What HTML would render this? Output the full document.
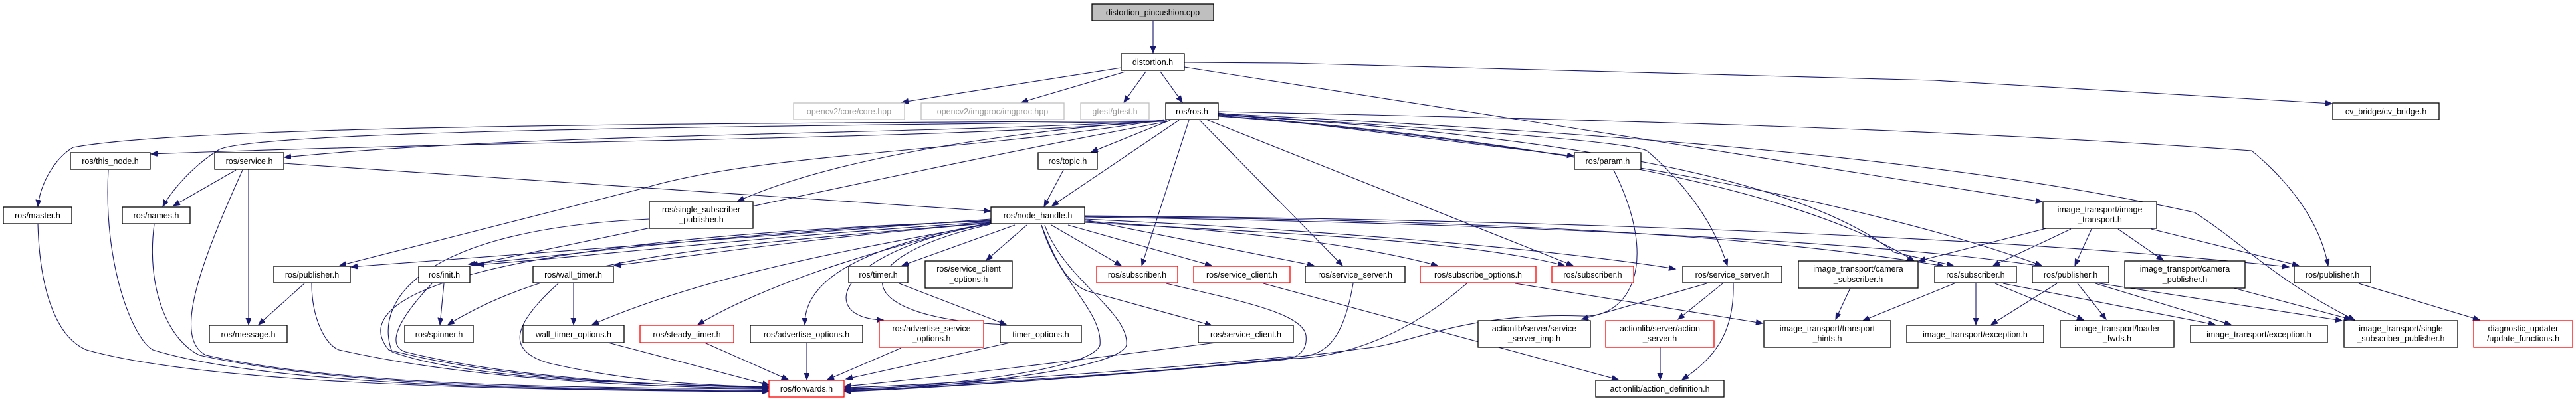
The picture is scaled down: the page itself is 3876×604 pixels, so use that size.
<!DOCTYPE html>
<html><head><meta charset="utf-8"><style>
html,body{margin:0;padding:0;background:#fff;}
svg{display:block;}
text{font-family:"Liberation Sans",sans-serif;font-size:12.5px;text-anchor:middle;fill:#000;}
.n{fill:#fff;stroke:#000;stroke-width:1.3;}
.r{fill:#fff;stroke:#ff0000;stroke-width:1.3;}
.g{fill:#fff;stroke:#bfbfbf;stroke-width:1.3;}
.gt{fill:#999;}
path{fill:none;stroke:#191970;stroke-width:1.1;}
</style></head><body>
<svg width="3876" height="604" viewBox="0 0 3876 604" xmlns="http://www.w3.org/2000/svg">
<defs><marker id="a" markerUnits="userSpaceOnUse" markerWidth="12" markerHeight="10" refX="10" refY="4" orient="auto"><polygon points="0,0 10,4 0,8" fill="#191970" stroke="#191970"/></marker></defs>
<g marker-end="url(#a)">
<path d="M1735,31 L1735,80"/>
<path d="M1687,102 L1357,154"/>
<path d="M1693,108 L1537,154"/>
<path d="M1724,108 L1691,154"/>
<path d="M1746,108 L1779,154"/>
<path d="M1782,94 L1940,95 L2910,121 L3509,156"/>
<path d="M1782,101 L3073,304"/>
<!-- ros.h -->
<path d="M1754,182 C1200,186 300,186 110,222 C80,240 60,280 57,311"/>
<path d="M1754,183 C1200,190 400,195 330,225 C290,250 260,285 245,311"/>
<path d="M1756,182 C1400,212 800,210 227,232"/>
<path d="M1756,182 C1300,205 800,200 428,237"/>
<path d="M1752,180 C1450,230 1150,230 970,283 L511,400"/>
<path d="M1752,181 C1500,200 1250,240 1110,303"/>
<path d="M1757,183 C1400,250 1100,320 709,399"/>
<path d="M1761,181 L1642,229"/>
<path d="M1774,181 L1583,310"/>
<path d="M1789,181 L1718,400"/>
<path d="M1805,181 L2020,400"/>
<path d="M1815,180 L2367,400"/>
<path d="M1833,170 L2368,235"/>
<path d="M1833,172 C2100,190 2440,210 2478,227 C2540,280 2580,340 2599,400"/>
<path d="M1833,168 C2400,180 2906,193 3388,227 C3440,270 3490,330 3503,400"/>
<path d="M1833,171 C2400,200 2906,233 3302,320 C3380,370 3420,420 3543,482"/>
<path d="M1833,173 C2300,200 2700,260 2850,380 L2939,400"/>
<path d="M1833,175 C2300,210 2800,300 3072,400"/>
<path d="M1833,174 C2300,210 2700,280 2880,393"/>
<!-- node_handle -->
<path d="M1491,330 C1100,360 800,380 528,402"/>
<path d="M1491,332 C1100,350 900,380 705,398"/>
<path d="M1491,334 C1100,360 900,385 718,399"/>
<path d="M1491,335 C1100,370 850,380 674,489"/>
<path d="M1491,336 C1200,360 1050,385 924,400"/>
<path d="M1491,337 C1250,380 1050,420 891,489"/>
<path d="M1527,339 L1357,400"/>
<path d="M1545,339 L1484,392"/>
<path d="M1490,335 C1300,380 1150,430 1050,489"/>
<path d="M1490,336 C1300,370 1210,420 1211,489"/>
<path d="M1490,337 C1250,380 1230,480 1329,482"/>
<path d="M1490,338 C1260,390 1280,480 1514,489"/>
<path d="M1582,339 L1687,400"/>
<path d="M1607,339 L1823,400"/>
<path d="M1567,339 C1590,400 1610,430 1638,439 L1823,490"/>
<path d="M1632,331 L1977,400"/>
<path d="M1632,333 C1900,350 2050,370 2163,400"/>
<path d="M1632,335 C1900,350 2200,360 2354,400"/>
<path d="M1632,330 C1950,345 2300,370 2521,405"/>
<path d="M1632,326 C2100,330 2600,345 2925,401"/>
<path d="M1632,327 C2200,335 2800,360 3073,401"/>
<path d="M1632,325 C2300,330 3000,355 3444,402"/>
<!-- left nodes -->
<path d="M355,256 L261,310"/>
<path d="M374,255 L374,489"/>
<path d="M427,246 L1490,318"/>
<path d="M458,427 L389,489"/>
<path d="M668,427 L662,489"/>
<path d="M863,427 L863,489"/>
<path d="M1600,256 L1571,311"/>
<path d="M1353,427 L1514,489"/>
<path d="M1060,516 L1186,572"/>
<path d="M1214,516 L1214,572"/>
<path d="M1356,524 L1245,572"/>
<path d="M1520,516 L1273,571"/>
<path d="M57,337 C60,450 90,510 130,527 C300,575 700,588 1156,590"/>
<path d="M163,256 C155,400 200,510 230,527 C400,580 800,588 1156,589"/>
<path d="M232,338 C220,430 250,510 300,535 C500,580 800,586 1156,588"/>
<path d="M365,256 C300,400 260,510 310,535 C500,578 800,584 1156,586"/>
<path d="M469,427 C469,480 490,520 510,527 C700,570 950,583 1156,585"/>
<path d="M650,427 C600,480 580,520 610,530 C750,565 950,580 1156,584"/>
<path d="M1491,333 C700,360 520,450 585,527 C750,570 950,580 1156,583"/>
<path d="M977,330 C640,345 560,450 590,530 C700,570 950,580 1156,582"/>
<path d="M840,427 C770,490 760,530 830,548 C950,575 1050,580 1156,583"/>
<path d="M915,516 L1157,580"/>
<path d="M1830,516 C1600,545 1400,570 1271,582"/>
<path d="M2036,427 C2020,520 1990,540 1940,537 C1700,560 1400,580 1271,584"/>
<path d="M2207,427 C2100,520 2000,540 1940,540 C1700,565 1400,582 1271,586"/>
<path d="M2428,256 C2500,400 2450,480 2380,476 C2200,470 2120,520 2050,525 C1800,560 1400,585 1271,588"/>
<path d="M1567,339 C1590,420 1660,470 1655,520 C1640,560 1400,583 1271,587"/>
<path d="M1572,339 C1600,420 1700,470 1695,520 C1680,560 1400,585 1271,589"/>
<path d="M1755,427 C1850,450 1960,470 1965,505 C1968,530 1950,540 1930,542 C1700,565 1400,585 1271,590"/>
<!-- right side -->
<path d="M1901,427 L2435,572"/>
<path d="M2280,427 L2652,487"/>
<path d="M2568,427 L2380,481"/>
<path d="M2592,427 L2525,481"/>
<path d="M2608,427 C2610,500 2580,540 2531,572"/>
<path d="M2498,523 L2498,572"/>
<path d="M2784,434 L2762,481"/>
<path d="M2943,426 L2803,483"/>
<path d="M3079,344 L2887,393"/>
<path d="M3116,345 L2999,400"/>
<path d="M3147,345 L3122,400"/>
<path d="M3187,345 L3255,392"/>
<path d="M3237,345 L3459,400"/>
<path d="M2973,427 L2973,489"/>
<path d="M3002,427 L3135,482"/>
<path d="M3014,427 L3333,489"/>
<path d="M3095,427 L2996,489"/>
<path d="M3126,427 L3169,481"/>
<path d="M3153,427 L3357,489"/>
<path d="M3159,427 L3524,483"/>
<path d="M3361,434 L3537,481"/>
<path d="M3549,427 L3731,482"/>
</g>
<!-- nodes -->
<rect x="1643" y="6" width="183" height="25" fill="#bfbfbf" stroke="#000" stroke-width="1.3"/><text x="1734.5" y="23">distortion_pincushion.cpp</text>
<rect class="n" x="1687" y="81" width="95" height="25"/><text x="1734.5" y="98">distortion.h</text>
<rect class="g" x="1194" y="155" width="167" height="25"/><text class="gt" x="1277.5" y="172">opencv2/core/core.hpp</text>
<rect class="g" x="1386" y="155" width="215" height="25"/><text class="gt" x="1493.5" y="172">opencv2/imgproc/imgproc.hpp</text>
<rect class="g" x="1626" y="155" width="103" height="25"/><text class="gt" x="1677.5" y="172">gtest/gtest.h</text>
<rect class="n" x="1754" y="155" width="79" height="25"/><text x="1793.5" y="172">ros/ros.h</text>
<rect class="n" x="3510" y="155" width="160" height="25"/><text x="3590" y="172">cv_bridge/cv_bridge.h</text>
<rect class="n" x="106" y="230" width="120" height="25"/><text x="166" y="247">ros/this_node.h</text>
<rect class="n" x="323" y="230" width="104" height="25"/><text x="375" y="247">ros/service.h</text>
<rect class="n" x="1562" y="230" width="89" height="25"/><text x="1606.5" y="247">ros/topic.h</text>
<rect class="n" x="2369" y="230" width="100" height="25"/><text x="2419" y="247">ros/param.h</text>
<rect class="n" x="5" y="312" width="103" height="25"/><text x="56.5" y="329">ros/master.h</text>
<rect class="n" x="184" y="312" width="102" height="25"/><text x="235" y="329">ros/names.h</text>
<rect class="n" x="977" y="304" width="156" height="40"/><text x="1055" y="320">ros/single_subscriber</text><text x="1055" y="335">_publisher.h</text>
<rect class="n" x="1491" y="312" width="141" height="25"/><text x="1561.5" y="329">ros/node_handle.h</text>
<rect class="n" x="3074" y="304" width="171" height="40"/><text x="3159.5" y="320">image_transport/image</text><text x="3159.5" y="335">_transport.h</text>
<rect class="n" x="412" y="401" width="115" height="25"/><text x="469.5" y="418">ros/publisher.h</text>
<rect class="n" x="630" y="401" width="77" height="25"/><text x="668.5" y="418">ros/init.h</text>
<rect class="n" x="802" y="401" width="121" height="25"/><text x="862.5" y="418">ros/wall_timer.h</text>
<rect class="n" x="1277" y="401" width="89" height="25"/><text x="1321.5" y="418">ros/timer.h</text>
<rect class="n" x="1392" y="393" width="131" height="41"/><text x="1457.5" y="409">ros/service_client</text><text x="1457.5" y="425">_options.h</text>
<rect class="r" x="1650" y="401" width="122" height="25"/><text x="1711" y="418">ros/subscriber.h</text>
<rect class="r" x="1796" y="401" width="145" height="25"/><text x="1868.5" y="418">ros/service_client.h</text>
<rect class="n" x="1964" y="401" width="150" height="25"/><text x="2039" y="418">ros/service_server.h</text>
<rect class="r" x="2137" y="401" width="174" height="25"/><text x="2224" y="418">ros/subscribe_options.h</text>
<rect class="r" x="2335" y="401" width="123" height="25"/><text x="2396.5" y="418">ros/subscriber.h</text>
<rect class="n" x="2532" y="401" width="149" height="25"/><text x="2606.5" y="418">ros/service_server.h</text>
<rect class="n" x="2706" y="393" width="180" height="41"/><text x="2796" y="409">image_transport/camera</text><text x="2796" y="425">_subscriber.h</text>
<rect class="n" x="2911" y="401" width="123" height="25"/><text x="2972.5" y="418">ros/subscriber.h</text>
<rect class="n" x="3058" y="401" width="115" height="25"/><text x="3115.5" y="418">ros/publisher.h</text>
<rect class="n" x="3197" y="393" width="181" height="41"/><text x="3287.5" y="409">image_transport/camera</text><text x="3287.5" y="425">_publisher.h</text>
<rect class="n" x="3452" y="401" width="115" height="25"/><text x="3509.5" y="418">ros/publisher.h</text>
<rect class="n" x="315" y="490" width="117" height="26"/><text x="373.5" y="508">ros/message.h</text>
<rect class="n" x="609" y="490" width="103" height="26"/><text x="660.5" y="508">ros/spinner.h</text>
<rect class="n" x="787" y="490" width="152" height="26"/><text x="863" y="508">wall_timer_options.h</text>
<rect class="r" x="963" y="490" width="141" height="26"/><text x="1033.5" y="508">ros/steady_timer.h</text>
<rect class="n" x="1129" y="490" width="169" height="26"/><text x="1213.5" y="508">ros/advertise_options.h</text>
<rect class="r" x="1323" y="483" width="157" height="40"/><text x="1401.5" y="499">ros/advertise_service</text><text x="1401.5" y="514">_options.h</text>
<rect class="n" x="1505" y="490" width="122" height="26"/><text x="1566" y="508">timer_options.h</text>
<rect class="n" x="1803" y="490" width="143" height="26"/><text x="1874.5" y="508">ros/service_client.h</text>
<rect class="n" x="2224" y="483" width="169" height="40"/><text x="2308.5" y="499">actionlib/server/service</text><text x="2308.5" y="514">_server_imp.h</text>
<rect class="r" x="2416" y="483" width="163" height="40"/><text x="2497.5" y="499">actionlib/server/action</text><text x="2497.5" y="514">_server.h</text>
<rect class="n" x="2654" y="483" width="191" height="40"/><text x="2749.5" y="499">image_transport/transport</text><text x="2749.5" y="514">_hints.h</text>
<rect class="n" x="2869" y="490" width="206" height="26"/><text x="2972" y="508">image_transport/exception.h</text>
<rect class="n" x="3100" y="483" width="171" height="40"/><text x="3185.5" y="499">image_transport/loader</text><text x="3185.5" y="514">_fwds.h</text>
<rect class="n" x="3296" y="490" width="206" height="26"/><text x="3399" y="508">image_transport/exception.h</text>
<rect class="n" x="3527" y="483" width="171" height="40"/><text x="3612.5" y="499">image_transport/single</text><text x="3612.5" y="514">_subscriber_publisher.h</text>
<rect class="r" x="3722" y="483" width="149" height="40"/><text x="3796.5" y="499">diagnostic_updater</text><text x="3796.5" y="514">/update_functions.h</text>
<rect class="r" x="1157" y="573" width="113" height="25"/><text x="1213.5" y="590">ros/forwards.h</text>
<rect class="n" x="2401" y="573" width="193" height="25"/><text x="2497.5" y="590">actionlib/action_definition.h</text>
</svg>
</body></html>
